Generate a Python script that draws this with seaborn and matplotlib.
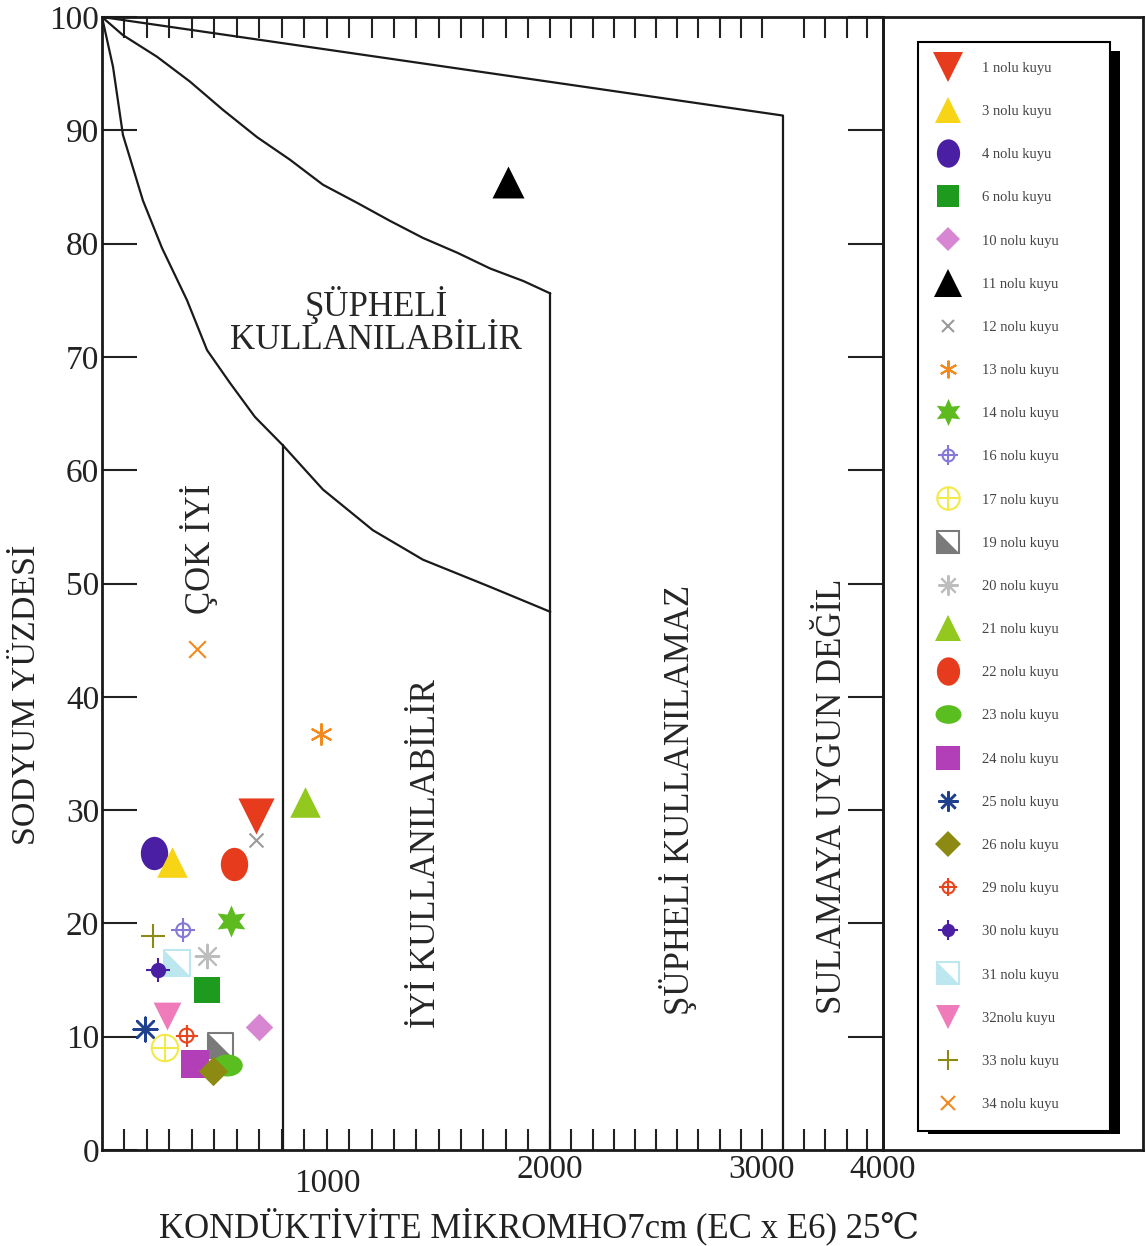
import numpy as np
import matplotlib
matplotlib.use("Agg")
import matplotlib.pyplot as plt
import seaborn as sns
from matplotlib.lines import Line2D
from matplotlib.legend_handler import HandlerTuple
from matplotlib.patches import Rectangle
from matplotlib.path import Path
from matplotlib.transforms import Affine2D

# well samples: conductivity (micromho/cm) and sodium percent
WELLS = ["1 nolu kuyu", "3 nolu kuyu", "4 nolu kuyu", "6 nolu kuyu", "10 nolu kuyu",
         "11 nolu kuyu", "12 nolu kuyu", "13 nolu kuyu", "14 nolu kuyu", "16 nolu kuyu",
         "17 nolu kuyu", "19 nolu kuyu", "20 nolu kuyu", "21 nolu kuyu", "22 nolu kuyu",
         "23 nolu kuyu", "24 nolu kuyu", "25 nolu kuyu", "26 nolu kuyu", "29 nolu kuyu",
         "30 nolu kuyu", "31 nolu kuyu", "32nolu kuyu", "33 nolu kuyu", "34 nolu kuyu"]
EC = [684, 311, 231, 468, 699, 1812, 684, 972, 572, 361, 280, 524, 468,
      902, 587, 554, 413, 191, 495, 376, 247, 335, 287, 228, 421]
NA_PCT = [29.5, 25.4, 26.2, 14.1, 10.9, 85.4, 27.4, 36.7, 20.2, 19.4, 9.0, 9.3, 17.1,
          30.7, 25.2, 7.5, 7.6, 10.7, 7.0, 10.1, 15.9, 16.5, 11.85, 18.9, 44.2]

# Wilcox class boundaries
TOP_EC = [0, 3174]
TOP_NA = [100, 91.3]
MID_EC = [0, 93, 244, 391, 538, 689, 836, 982, 1135, 1283, 1430, 1583, 1731, 1879, 2000]
MID_NA = [100, 98.4, 96.5, 94.3, 91.8, 89.4, 87.4, 85.2, 83.6, 82.0, 80.5, 79.2, 77.8,
          76.7, 75.6]
LOW_EC = [0, 49, 93, 182, 267, 378, 467, 569, 680, 804, 982, 1206, 1430, 1731, 2000]
LOW_NA = [100, 95.6, 89.6, 83.8, 79.6, 75.0, 70.6, 67.7, 64.7, 62.2, 58.3, 54.7, 52.1,
          49.7, 47.5]
VLINE_EC = [804, 2000, 3174]
VLINE_TOP = [62.2, 75.6, 91.3]

# the x axis of the original is hand drawn (compressed after 3000)
EC_TICKS = [0, 1000, 2000, 3000, 4000]
EC_AXIS_FRAC = [0, 0.288, 0.574, 0.845, 1.0]
EC_MINOR = list(range(100, 3100, 100)) + [3350, 3525, 3700, 3865]

# marker styles
HALF = [(-1, -1), (-1, 1), (1, -1), (-1, -1)]
ELL_V = Path.unit_circle().transformed(Affine2D().scale(0.82, 1))
ELL_H = Path.unit_circle().transformed(Affine2D().scale(1, 0.72))
COLORS = ["#E63B1C", "#F7D416", "#4A1FA3", "#1E9A1E", "#D986D2", "#000000", "#9A9A9A",
          "#F28A1E", "#5DBB1F", "#8479D6", "#F2E94A", "#7A7A7A", "#BDBDBD", "#93C91E",
          "#E63B1C", "#5BBE20", "#B23EB8", "#1F3F8F", "#8C8A12", "#E8441E", "#4A1FA3",
          "#BDE7EE", "#EF7BBA", "#8C8A12", "#F28A1E"]


def layers(i):
    c = COLORS[i]
    w = WELLS[i].split()[0].replace("nolu", "")
    spec = {
        "1": [("v", 26, c, c, 0)], "3": [("^", 22, c, c, 0)], "4": [(ELL_V, 24, c, c, 0)],
        "6": [("s", 19, c, c, 0)], "10": [("D", 14, c, c, 0)], "11": [("^", 23, c, c, 0)],
        "12": [("x", 10, c, c, 1.5)], "13": [((6, 2, 0), 15, c, c, 1.5)],
        "14": [((6, 1, 0), 23, c, c, 0)],
        "16": [("o", 10, "none", c, 1.5), ("+", 17, c, c, 1.5)],
        "17": [("o", 19, "none", c, 1.5), ("+", 19, c, c, 1.5)],
        "19": [("s", 18, "white", c, 1.5), (HALF, 18, c, c, 0)],
        "20": [((8, 2, 0), 17, c, c, 1.5)], "21": [("^", 22, c, c, 0)],
        "22": [(ELL_V, 24, c, c, 0)], "23": [(ELL_H, 22, c, c, 0)],
        "24": [("s", 20, c, c, 0)], "25": [((8, 2, 0), 17, c, c, 1.8)],
        "26": [("D", 15, c, c, 0)],
        "29": [("o", 10, "none", c, 1.5), ("+", 16, c, c, 1.5)],
        "30": [("o", 10, c, c, 1), ("+", 17, c, c, 1.5)],
        "31": [("s", 19, "white", c, 1.5), (HALF, 19, c, c, 0)],
        "32": [("v", 20, c, c, 0)], "33": [("+", 17, c, c, 1.5)],
        "34": [("x", 12, c, c, 1.5)],
    }
    return spec[w]


sns.set_theme(style="white")
plt.rcParams["font.family"] = ["Liberation Serif", "DejaVu Serif", "DejaVu Sans"]
plt.rcParams["text.color"] = "#222222"
plt.rcParams["xtick.color"] = "#222222"
plt.rcParams["ytick.color"] = "#222222"

fig = plt.figure(figsize=(11.46, 12.46), dpi=100)
ax = fig.add_axes([102 / 1146, 96 / 1246, 781 / 1146, 1133 / 1246])
pan = fig.add_axes([883 / 1146, 96 / 1246, 260 / 1146, 1133 / 1246])

fwd = lambda v: np.interp(v, EC_TICKS, EC_AXIS_FRAC)
inv = lambda v: np.interp(v, EC_AXIS_FRAC, EC_TICKS)
ax.set_xscale("function", functions=(fwd, inv))
ax.set_xlim(0, 4000)
ax.set_ylim(0, 100)

# boundaries
line_kw = dict(color="#1a1a1a", linewidth=1.6, sort=False, estimator=None, ax=ax)
sns.lineplot(x=TOP_EC, y=TOP_NA, **line_kw)
sns.lineplot(x=MID_EC, y=MID_NA, **line_kw)
sns.lineplot(x=LOW_EC, y=LOW_NA, **line_kw)
for xe, yt in zip(VLINE_EC, VLINE_TOP):
    sns.lineplot(x=[xe, xe], y=[0, yt], **line_kw)

# points
draw_order = [5, 7, 24, 13, 0, 6, 2, 1, 14, 8, 23, 9, 12, 21, 20, 3, 22, 4, 17,
              19, 10, 11, 16, 15, 18]
for i in draw_order:
    for (m, size, face, edge, lw) in layers(i):
        kw = dict(x=[EC[i]], y=[NA_PCT[i]], marker=m, s=size ** 2, ax=ax,
                  legend=False, zorder=3, linewidth=lw)
        if matplotlib.markers.MarkerStyle(m).is_filled():
            kw.update(color=face, edgecolor=edge)
        else:
            kw.update(color=edge)
        sns.scatterplot(**kw)

handles = []
for i in range(len(WELLS)):
    parts = []
    for (m, size, face, edge, lw) in layers(i):
        parts.append(Line2D([], [], linestyle="none", marker=m, markersize=size * 0.85,
                            markerfacecolor=face, markeredgecolor=edge,
                            markeredgewidth=lw))
    handles.append(tuple(parts))

# axes styling
for sp in ax.spines.values():
    sp.set_linewidth(2)
    sp.set_color("#1a1a1a")
ax.set_xticks(EC_TICKS[1:])
ax.set_xticklabels(["1000", "2000", "3000", "4000"])
ax.set_xticks(EC_MINOR, minor=True)
ax.xaxis.remove_overlapping_locs = False
ax.tick_params(axis="x", which="major", direction="in", length=25, width=1.5,
               labelsize=24, pad=3, top=False)
ax.tick_params(axis="x", which="minor", direction="in", length=15, width=1.5,
               top=True, bottom=True)
ax.xaxis.get_major_ticks()[0].set_pad(13)
ax.set_yticks(range(0, 101, 10))
ax.tick_params(axis="y", direction="in", length=25, width=1.5, labelsize=24,
               left=True, right=True, pad=2)
ax.set_xlabel("")
ax.set_ylabel("")

# zone labels
zone_kw = dict(fontsize=25, ha="center", va="center", color="#262626")
ax.text(1220, 73.1, "ŞÜPHELİ\nKULLANILABİLİR", linespacing=1.0, **zone_kw)
ax.text(431, 53.1, "ÇOK İYİ", rotation=90, **zone_kw)
ax.text(1448, 26.2, "İYİ KULLANILABİLİR", rotation=90, **zone_kw)
ax.text(2604, 30.9, "ŞÜPHELİ KULLANILAMAZ", rotation=90, **zone_kw)
ax.text(3579, 31.2, "SULAMAYA UYGUN DEĞİL", rotation=90, **zone_kw)

fig.text(539 / 1146, 1 - 1226 / 1246, "KONDÜKTİVİTE MİKROMHO7cm (EC x E6) 25℃",
         fontsize=25, ha="center", va="center")
fig.text(27 / 1146, 1 - 695 / 1246, "SODYUM YÜZDESİ", fontsize=24.5, rotation=90,
         ha="center", va="center")

# legend panel
pan.set_xticks([])
pan.set_yticks([])
pan.set_facecolor("none")
for sp in pan.spines.values():
    sp.set_linewidth(2)
    sp.set_color("#1a1a1a")

leg = pan.legend(handles, WELLS, handler_map={tuple: HandlerTuple(ndivide=1, pad=0)},
                 loc="upper left", bbox_to_anchor=(0.135, 0.978, 0.738, 0), mode="expand",
                 borderaxespad=0, fontsize=10.5, labelspacing=2.055, handlelength=1.4,
                 handletextpad=1.65, borderpad=1.35, frameon=True, fancybox=False,
                 edgecolor="black", framealpha=1, labelcolor="#444444")
leg.get_frame().set_linewidth(1.5)

fig.canvas.draw()
bb = leg.get_window_extent()
shadow = Rectangle((bb.x0 + 10, bb.y0 - 3), bb.width, bb.height - 6,
                   transform=None, facecolor="black", edgecolor="none", zorder=-1)
fig.patches.append(shadow)

fig.savefig("out.png", dpi=100)
